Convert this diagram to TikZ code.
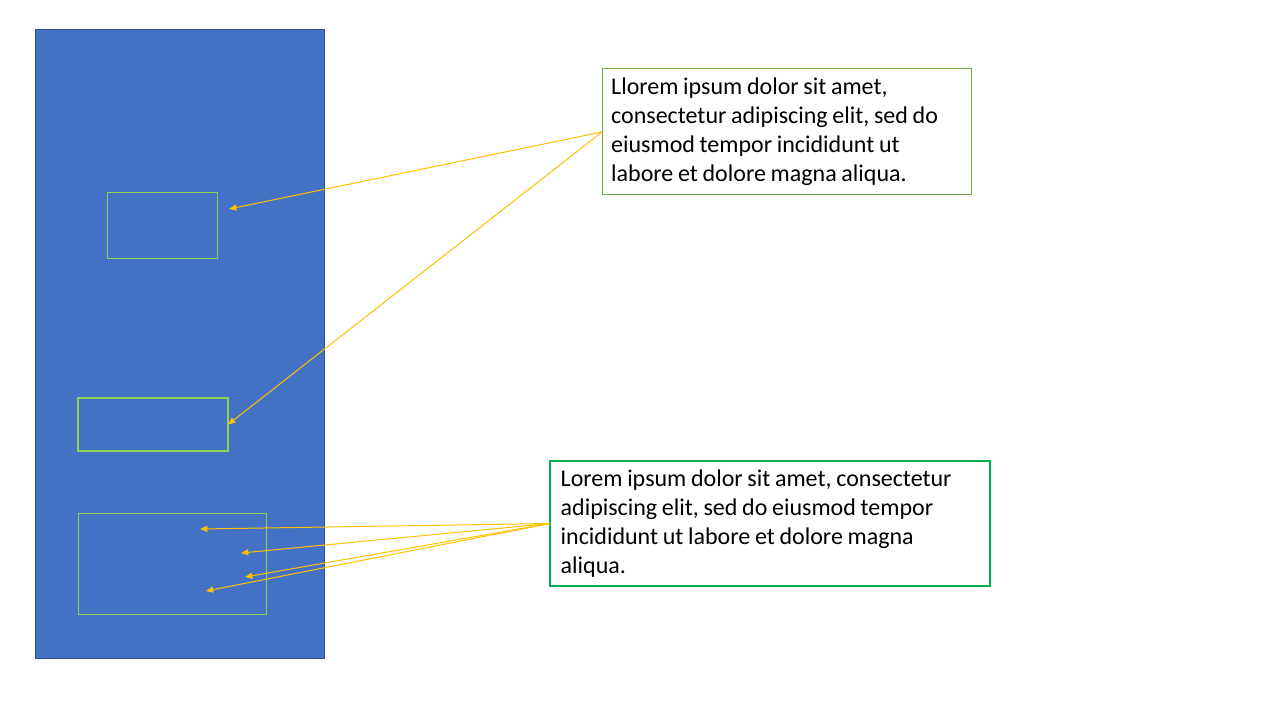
\documentclass[tikz,border=0pt]{standalone}
\usepackage{fontspec}
\setmainfont{Carlito}
\usetikzlibrary{arrows.meta}
\definecolor{slideblue}{HTML}{4472C4}
\definecolor{slideblueborder}{HTML}{2F528F}
\definecolor{limegreen}{HTML}{92D050}
\definecolor{boxgreen}{HTML}{70AD47}
\definecolor{boxgreenB}{HTML}{00B050}
\definecolor{callout}{HTML}{FFC000}
\newcommand\tightsp{\spaceskip=3.5pt plus 1pt\relax}
\tikzset{
  frame/.style={draw=limegreen, line width=0.75pt, minimum width=#1, inner sep=0pt, outer sep=0pt},
  note/.style={draw, fill=white, align=left, anchor=north west, inner ysep=0pt, outer sep=0pt,
    font=\fontsize{18pt}{21.75pt}\selectfont},
  pointer/.style={draw=callout, line width=0.75pt, -{Triangle[length=5.5pt,width=4.5pt]}}
}
\begin{document}
\begin{tikzpicture}[x=0.75pt,y=-0.75pt]
\useasboundingbox (0,0) rectangle (1280,720);
% tall blue panel
\node[draw=slideblueborder, fill=slideblue, line width=0.75pt, inner sep=0pt, outer sep=0pt,
  minimum width=216.75pt, minimum height=471pt, anchor=north west] (panel) at (35,30) {};
% frames on the panel
\node[frame=82.5pt, minimum height=48.75pt, anchor=north west] (fa) at (107,193) {};
\node[frame=112.5pt, minimum height=39.75pt, line width=1.5pt, anchor=north west] (fb) at (78,398) {};
\node[frame=141pt, minimum height=75.75pt, anchor=north west] (fc) at (78,513) {};
% text boxes
\node[note, draw=boxgreen, line width=0.75pt, inner xsep=6.75pt,
  minimum width=276.75pt, minimum height=94.5pt, text width=263pt] (t1) at (602,69)
  {\tightsp Llorem ipsum dolor sit amet,\\consectetur adipiscing elit, sed do\\eiusmod tempor incididunt ut\\labore et dolore magna aliqua.};
\node[note, draw=boxgreenB, line width=1.5pt, inner xsep=7.5pt,
  minimum width=330pt, minimum height=93.75pt, text width=314pt] (t2) at (550,461)
  {\tightsp Lorem ipsum dolor sit amet, consectetur\\adipiscing elit, sed do eiusmod tempor\\incididunt ut labore et dolore magna\\aliqua.};
% free arrow ends
\coordinate (pa) at (229,209);
\coordinate (pc1) at (200,529);
\coordinate (pc2) at (241,553);
\coordinate (pc3) at (245,577);
\coordinate (pc4) at (206,591);
% callout arrows
\draw[pointer] (t1.west) -- (pa);
\draw[pointer] (t1.west) -- (fb.east);
\draw[pointer] (t2.west) -- (pc1);
\draw[pointer] (t2.west) -- (pc2);
\draw[pointer] (t2.west) -- (pc3);
\draw[pointer] (t2.west) -- (pc4);
\end{tikzpicture}
\end{document}
